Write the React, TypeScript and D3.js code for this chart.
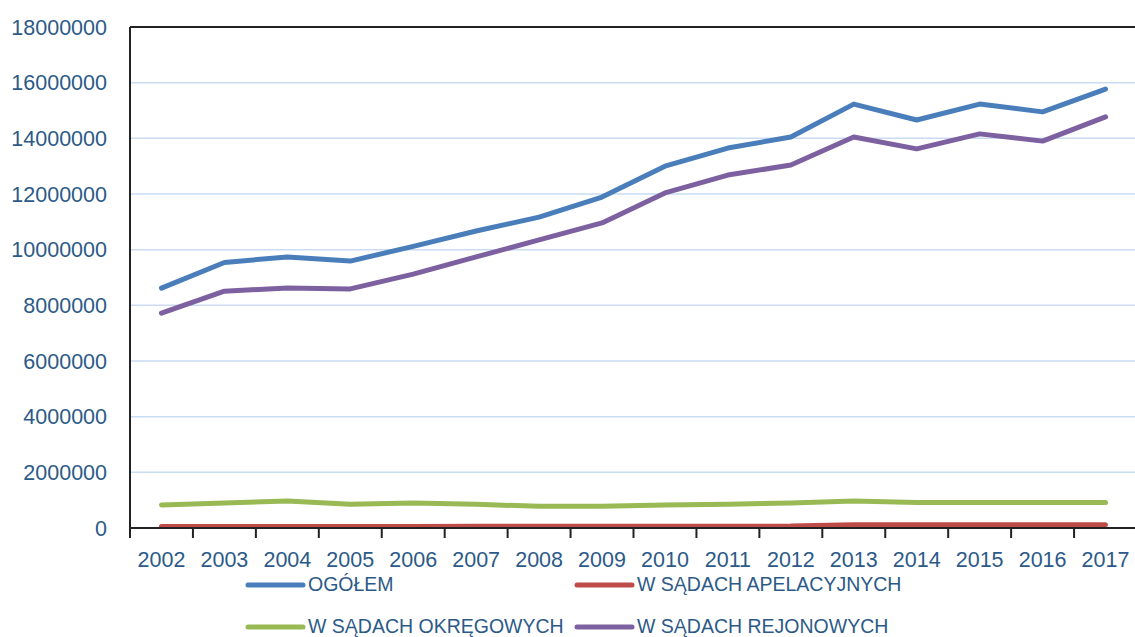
import React from 'react'
import * as d3 from 'd3'

const years = [
  '2002', '2003', '2004', '2005', '2006', '2007', '2008', '2009',
  '2010', '2011', '2012', '2013', '2014', '2015', '2016', '2017',
]

const ogolem = [
  8620000, 9540000, 9740000, 9590000, 10120000, 10670000, 11170000, 11890000,
  13000000, 13650000, 14050000, 15230000, 14660000, 15230000, 14950000, 15770000,
]
const apelacyjne = [
  50000, 52000, 55000, 56000, 58000, 60000, 62000, 62000,
  64000, 66000, 68000, 120000, 118000, 118000, 118000, 120000,
]
const okregowe = [
  830000, 900000, 970000, 850000, 900000, 850000, 780000, 780000,
  830000, 850000, 900000, 970000, 920000, 920000, 920000, 920000,
]
const rejonowe = [
  7720000, 8510000, 8620000, 8590000, 9120000, 9740000, 10350000, 10960000,
  12040000, 12680000, 13040000, 14050000, 13620000, 14160000, 13900000, 14770000,
]

const yTicks = [0, 2000000, 4000000, 6000000, 8000000, 10000000, 12000000, 14000000, 16000000, 18000000]

const seriesNames = ['OGÓŁEM', 'W SĄDACH APELACYJNYCH', 'W SĄDACH OKRĘGOWYCH', 'W SĄDACH REJONOWYCH']
const seriesColors = ['#4a7ebb', '#be4b48', '#98b954', '#7d60a0']

const W = 1135
const H = 637
const left = 130
const right = 1137
const top = 27
const bottom = 528
const textColor = '#2c5a88'
const font = '"Liberation Sans", Arial, sans-serif'

export default function App() {
  const series = [ogolem, apelacyjne, okregowe, rejonowe]

  const x = d3.scaleBand<string>().domain(years).range([left, right])
  const y = d3.scaleLinear().domain([0, 18000000]).range([bottom, top])

  const line = d3
    .line<number>()
    .x((_d, i) => (x(years[i]) ?? 0) + x.bandwidth() / 2)
    .y((d) => y(d))

  // draw order: purple and blue on top like the source
  const drawOrder = [2, 1, 3, 0]

  const legendRows = [
    { idx: 0, lx: 248, ly: 585 },
    { idx: 1, lx: 577, ly: 585 },
    { idx: 2, lx: 248, ly: 627 },
    { idx: 3, lx: 577, ly: 627 },
  ]

  return (
    <svg
      width={W}
      height={H}
      style={{ position: 'absolute', left: 0, top: 0, background: '#fff' }}
      fontFamily={font}
    >
      {/* gridlines */}
      {yTicks.slice(1, -1).map((t) => (
        <line key={t} x1={left} x2={W} y1={y(t)} y2={y(t)} stroke="#c9dcf2" strokeWidth={1.5} />
      ))}

      {/* plot frame */}
      <line x1={left} x2={W} y1={top} y2={top} stroke="#222" strokeWidth={2} />
      <line x1={left} x2={left} y1={top} y2={bottom + 10} stroke="#222" strokeWidth={2} />

      {/* y labels */}
      {yTicks.map((t) => (
        <text
          key={t}
          x={107}
          y={y(t)}
          dy="0.36em"
          textAnchor="end"
          fontSize={21.5}
          fill={textColor}
        >
          {t}
        </text>
      ))}

      {/* lines */}
      {drawOrder.map((i) => (
        <path
          key={i}
          d={line(series[i]) ?? ''}
          fill="none"
          stroke={seriesColors[i]}
          strokeWidth={5}
          strokeLinecap="round"
          strokeLinejoin="round"
        />
      ))}

      {/* x axis */}
      <line x1={left} x2={W} y1={bottom} y2={bottom} stroke="#222" strokeWidth={2} />
      {years.map((yr) => (
        <line
          key={'t' + yr}
          x1={x(yr)}
          x2={x(yr)}
          y1={bottom}
          y2={bottom + 10}
          stroke="#222"
          strokeWidth={2}
        />
      ))}
      {years.map((yr) => (
        <text
          key={yr}
          x={(x(yr) ?? 0) + x.bandwidth() / 2}
          y={567}
          textAnchor="middle"
          fontSize={21.5}
          fill={textColor}
        >
          {yr}
        </text>
      ))}

      {/* legend */}
      {legendRows.map(({ idx, lx, ly }) => (
        <g key={idx}>
          <line
            x1={lx}
            x2={lx + 55}
            y1={ly}
            y2={ly}
            stroke={seriesColors[idx]}
            strokeWidth={5}
            strokeLinecap="round"
          />
          <text x={lx + 60} y={ly + 6} fontSize={19.5} fill={textColor}>
            {seriesNames[idx]}
          </text>
        </g>
      ))}
    </svg>
  )
}
